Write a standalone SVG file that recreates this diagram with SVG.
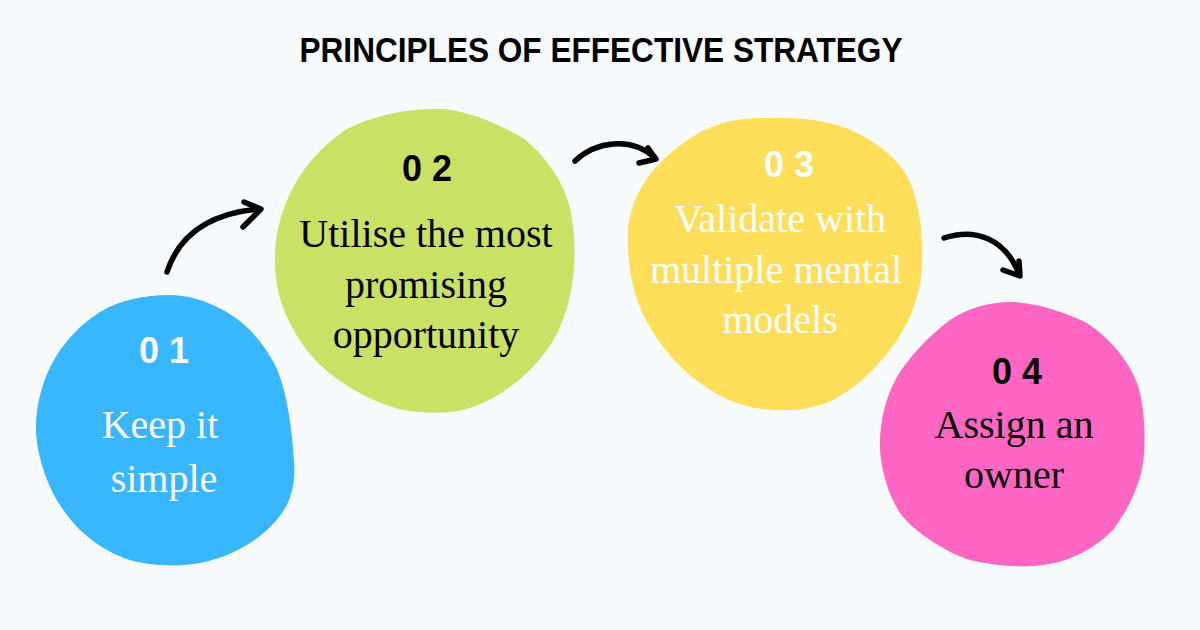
<svg xmlns="http://www.w3.org/2000/svg" width="1200" height="630" viewBox="0 0 1200 630">
<style>
.title{font-family:"Liberation Sans",Arial,sans-serif;font-weight:bold;font-size:35px;fill:#000}
.num{font-family:"Liberation Sans",Arial,sans-serif;font-weight:bold;font-size:36px;text-anchor:middle}
.body{font-family:"Liberation Serif","Times New Roman",serif;font-size:40px;text-anchor:middle}
.w{fill:#ffffff}
.k{fill:#000000}
.arrow{fill:none;stroke:#000;stroke-width:5.5;stroke-linecap:round;stroke-linejoin:round}
</style>
<rect width="1200" height="630" fill="#F7FBFE"/>
<text class="title" x="601" y="62" text-anchor="middle" textLength="603" lengthAdjust="spacingAndGlyphs">PRINCIPLES OF EFFECTIVE STRATEGY</text>

<g id="node1">
<path fill="#38B6FF" d="M170,295 C185,295 205,300 223,310 C245,322 262,340 275,365 C287,390 292,428 294,462 C296,488 289,508 272,525 C255,543 230,557 200,563 C180,567 150,566 130,560 C105,552 80,535 62,508 C48,488 38,460 36,433 C35,408 42,380 55,358 C68,338 80,325 100,312 C120,300 145,295 170,295 Z"/>
<text class="num w" x="164" y="363">0 1</text>
<text class="body w" x="160" y="438">Keep it</text>
<text class="body w" x="164" y="492">simple</text>
</g>

<g id="node2">
<path fill="#C9E265" d="M443,109 C470,111 500,125 523,138 C545,155 560,178 567,198 C575,222 576,255 573,278 C570,305 560,335 543,355 C525,378 500,398 470,408 C450,414 430,414 403,410 C375,403 345,388 320,365 C300,345 282,315 277,285 C272,255 276,225 288,198 C300,170 320,148 345,130 C375,114 410,108 443,109 Z"/>
<text class="num k" x="427" y="181">0 2</text>
<text class="body k" x="426" y="247">Utilise the most</text>
<text class="body k" x="426" y="298">promising</text>
<text class="body k" x="426" y="348">opportunity</text>
</g>

<g id="node3">
<path fill="#FFDE59" d="M765,118 C795,117 830,120 855,132 C885,147 905,165 913,190 C921,215 923,240 922,265 C921,292 912,318 897,340 C880,365 858,387 833,400 C815,409 795,411 773,410 C745,409 720,398 700,383 C675,365 655,340 642,312 C631,288 627,258 628,230 C630,205 642,180 663,160 C682,142 700,130 720,124 C735,119 750,118 765,118 Z"/>
<text class="num w" x="789" y="177">0 3</text>
<text class="body w" x="780" y="232">Validate with</text>
<text class="body w" x="776" y="283">multiple mental</text>
<text class="body w" x="780" y="333">models</text>
</g>

<g id="node4">
<path fill="#FF66C4" d="M1010,302 C1035,302 1065,312 1087,323 C1110,338 1128,360 1137,383 C1145,405 1146,440 1143,463 C1140,485 1128,510 1113,530 C1095,548 1070,562 1043,565 C1025,568 995,566 970,560 C948,553 920,536 903,517 C890,500 882,475 880,450 C879,425 885,398 897,377 C908,358 930,335 950,320 C968,308 990,302 1010,302 Z"/>
<text class="num k" x="1017" y="384">0 4</text>
<text class="body k" x="1014" y="438">Assign an</text>
<text class="body k" x="1014" y="488">owner</text>
</g>

<g id="connectors">
<path class="arrow" d="M167,272 C178,238 205,214 258,209"/>
<path class="arrow" d="M244,202 L261,209 L243,227"/>
<path class="arrow" d="M575,161 C595,142 630,136 654,157"/>
<path class="arrow" d="M648,148 L656,159 L639,163"/>
<path class="arrow" d="M944,238 C975,228 1005,238 1019,274"/>
<path class="arrow" d="M1003,270 L1020,276 L1019,261"/>
</g>
</svg>
